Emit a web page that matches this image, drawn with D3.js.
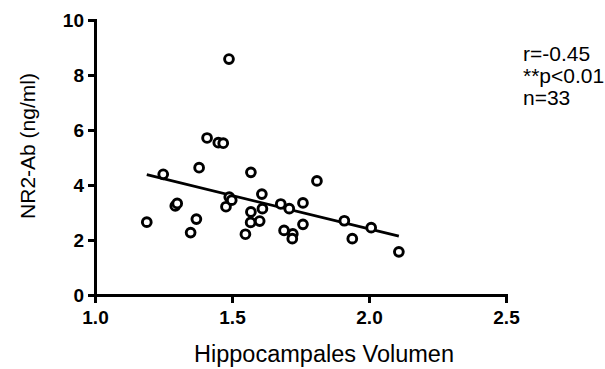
<!DOCTYPE html>
<meta charset="utf-8">
<style>
    body { margin: 0; background: #fff; }
</style>
<svg width="605" height="369"></svg>
<script src="https://d3js.org/d3.v7.min.js"></script>
<script>
    // hippocampal volume vs NR2 antibody
    var volumen = [1.189, 1.249, 1.293, 1.300, 1.349, 1.370, 1.380, 1.409, 1.450, 1.468, 1.478,
        1.489, 1.490, 1.499, 1.549, 1.569, 1.569, 1.568, 1.601, 1.609, 1.611, 1.678,
        1.690, 1.709, 1.722, 1.720, 1.759, 1.759, 1.810, 1.910, 1.939, 2.008, 2.109];
    var nr2ab = [2.65, 4.39, 3.24, 3.33, 2.27, 2.76, 4.63, 5.71, 5.54, 5.52, 3.21,
        8.58, 3.56, 3.45, 2.21, 4.46, 3.02, 2.64, 2.69, 3.67, 3.14, 3.31,
        2.35, 3.14, 2.22, 2.05, 3.35, 2.57, 4.15, 2.70, 2.05, 2.45, 1.57];
    var xTicks = [1.0, 1.5, 2.0, 2.5];
    var yTicks = [0, 2, 4, 6, 8, 10];
    var stats = ["r=-0.45", "**p<0.01", "n=33"];

    var font = "'Liberation Sans', Arial, sans-serif";
    var svg = d3.select("svg");

    var x = d3.scaleLinear().domain([1.0, 2.5]).range([95, 506]);
    var y = d3.scaleLinear().domain([0, 10]).range([295, 20]);

    function styleAxis(g) {
        g.selectAll("path, line").attr("stroke", "#000").attr("stroke-width", 3);
        g.selectAll("text")
            .attr("fill", "#000")
            .style("font-family", font)
            .style("font-weight", "bold")
            .style("font-size", "19px");
    }

    svg.append("g")
        .attr("transform", "translate(0,295)")
        .call(d3.axisBottom(x).tickValues(xTicks).tickFormat(d3.format(".1f")).tickSize(8).tickPadding(8))
        .call(styleAxis);

    svg.append("g")
        .attr("transform", "translate(95,0)")
        .call(d3.axisLeft(y).tickValues(yTicks).tickSize(7).tickPadding(4))
        .call(styleAxis);

    // least squares fit over the data range
    var mx = d3.mean(volumen), my = d3.mean(nr2ab);
    var sxy = d3.sum(volumen, function(v, i) { return (v - mx) * (nr2ab[i] - my); });
    var sxx = d3.sum(volumen, function(v) { return (v - mx) * (v - mx); });
    var slope = sxy / sxx, icpt = my - slope * mx;
    var ext = d3.extent(volumen);

    svg.append("line")
        .attr("x1", x(ext[0])).attr("y1", y(icpt + slope * ext[0]))
        .attr("x2", x(ext[1])).attr("y2", y(icpt + slope * ext[1]))
        .attr("stroke", "#000").attr("stroke-width", 2.8);

    svg.append("g")
        .selectAll("circle")
        .data(volumen)
        .enter().append("circle")
        .attr("cx", function(d) { return x(d); })
        .attr("cy", function(d, i) { return y(nr2ab[i]); })
        .attr("r", 4.4)
        .attr("fill", "#fff")
        .attr("stroke", "#000")
        .attr("stroke-width", 2.9);

    svg.append("text")
        .attr("x", 324).attr("y", 362)
        .attr("text-anchor", "middle")
        .style("font-family", font)
        .style("font-size", "23.5px")
        .text("Hippocampales Volumen");

    svg.append("text")
        .attr("transform", "translate(35,146) rotate(-90)")
        .attr("text-anchor", "middle")
        .style("font-family", font)
        .style("font-size", "21px")
        .text("NR2-Ab (ng/ml)");

    svg.append("g")
        .selectAll("text")
        .data(stats)
        .enter().append("text")
        .attr("x", 523)
        .attr("y", function(d, i) { return 61 + i * 22; })
        .style("font-family", font)
        .style("font-size", "21px")
        .text(function(d) { return d; });
</script>
